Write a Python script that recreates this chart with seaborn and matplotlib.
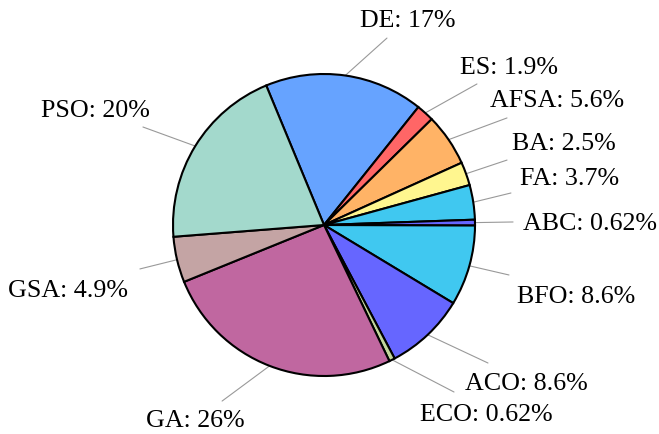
import matplotlib
matplotlib.use("Agg")
import matplotlib.pyplot as plt
import seaborn as sns
import numpy as np

# data (clockwise from the top)
algos = ['DE', 'ES', 'AFSA', 'BA', 'FA', 'ABC', 'BFO', 'ACO', 'ECO', 'GA', 'GSA', 'PSO']
shares = [17, 1.9, 5.6, 2.5, 3.7, 0.62, 8.6, 8.6, 0.62, 26, 4.9, 20]
share_txt = ['17%', '1.9%', '5.6%', '2.5%', '3.7%', '0.62%', '8.6%', '8.6%', '0.62%', '26%', '4.9%', '20%']
colors = ['#66a3ff', '#ff6666', '#ffb366', '#fff68f', '#40c8f0', '#6666ff',
          '#40c8f0', '#6666ff', '#c2d69b', '#c067a0', '#c4a4a4', '#a3d9cc']

# label layout, in pie-radius units: leader line end, text anchor
line_end = [(0.417, 1.238), (1.013, 0.934), (1.212, 0.709), (1.212, 0.430),
            (1.238, 0.212), (1.252, 0.020), (1.225, -0.331), (1.086, -0.914),
            (0.861, -1.106), (-0.675, -1.166), (-1.219, -0.291), (-1.199, 0.649)]
text_pos = [(0.238, 1.311), (0.901, 1.000), (1.099, 0.781), (1.245, 0.497),
            (1.298, 0.265), (1.318, -0.033), (1.278, -0.517), (0.934, -1.093),
            (0.636, -1.298), (-0.523, -1.338), (-1.298, -0.477), (-1.152, 0.715)]
text_ha = ['left'] * 9 + ['right'] * 3

sns.set_theme(style="white")
plt.rcParams['font.family'] = ['Liberation Serif', 'DejaVu Serif']

fig = plt.figure(figsize=(6.59, 4.34), dpi=100)
ax = fig.add_axes([0, 0, 1, 1])

wedges, _ = ax.pie(shares, colors=colors, startangle=112.5, counterclock=False,
                   center=(0, 0), radius=1,
                   wedgeprops=dict(edgecolor='black', linewidth=1.5))

for w, name, txt, (lx, ly), (tx, ty), ha in zip(wedges, algos, share_txt,
                                                line_end, text_pos, text_ha):
    mid = np.deg2rad((w.theta1 + w.theta2) / 2)
    ex, ey = np.cos(mid), np.sin(mid)
    ax.plot([ex, lx], [ey, ly], color='#999999', lw=0.8, zorder=0)
    ax.text(tx, ty, f'{name}: {txt}', ha=ha, va='baseline', fontsize=18.7, color='black')

ax.set_xlim(-324 / 151, (659 - 324) / 151)
ax.set_ylim((225 - 434) / 151, 225 / 151)
ax.set_aspect('equal')
ax.axis('off')

fig.savefig('out.png', dpi=100)
